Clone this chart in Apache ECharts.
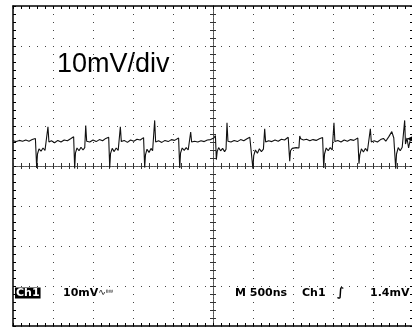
<!DOCTYPE html>
<html>
<head>
<meta charset="utf-8">
<script src="https://cdn.jsdelivr.net/npm/echarts@6/dist/echarts.min.js"></script>
<style>
html,body{margin:0;padding:0;background:#fff;}
#chart{width:412px;height:327px;}
</style>
</head>
<body>
<div id="chart"></div>
<script>
// Time relative to screen centre (ns), 500 ns / div
const timeNs = [
  -2500,-2460,-2420,-2380,-2340,-2300,-2260,-2220,
  -2204,-2194,-2175,-2150,-2125,-2100,-2075,-2063,-2051,-2020,-1980,-1940,-1900,-1860,-1820,-1780,-1742,
  -1729,-1719,-1700,-1675,-1650,-1625,-1603,-1591,-1579,-1540,-1500,-1460,-1420,-1380,-1340,-1304,
  -1291,-1281,-1260,-1235,-1210,-1185,-1170,-1158,-1146,-1110,-1070,-1030,-990,-950,-910,-868,
  -854,-844,-825,-800,-775,-755,-740,-729,-717,-680,-640,-600,-560,-520,-480,-430,
  -416,-406,-385,-360,-335,-310,-290,-279,-267,-230,-190,-150,-110,-70,-30,10,30,
  42,52,70,95,120,145,163,175,187,225,265,305,345,385,425,460,485,
  499,509,530,555,580,605,630,646,658,695,735,775,815,855,895,940,
  959,969,990,1015,1040,1065,1074,1084,1096,1130,1170,1210,1250,1290,1330,1370,
  1384,1394,1415,1440,1465,1490,1502,1512,1524,1560,1600,1640,1680,1720,1760,1810,
  1825,1835,1855,1880,1905,1930,1955,1967,1979,2015,2055,2095,2130,2160,2200,2235,2260,
  2284,2294,2315,2340,2365,2385,2396,2406,2425,2445,2465,2500
];
// Channel 1 voltage (mV), 10 mV / div
const traceMv = [
  6.3,6.1,6.4,6.2,6.5,6.2,6.6,6.9,
  -0.5,3.0,4.3,3.7,4.5,3.9,4.4,9.8,6.0,6.3,5.8,6.4,6.0,6.5,6.3,6.8,7.3,
  -0.6,3.3,4.5,3.8,4.7,4.0,4.6,10.1,6.2,6.0,6.5,6.1,6.6,6.3,6.9,7.2,
  -0.4,3.1,4.4,3.6,4.5,3.9,4.3,9.8,6.1,6.4,5.9,6.5,6.2,6.7,6.5,7.1,
  -0.4,2.8,4.2,3.4,4.4,3.8,4.3,11.4,6.0,6.3,5.9,6.4,6.1,6.6,6.4,7.0,
  -0.5,3.2,4.5,3.9,4.6,4.0,4.4,8.5,6.0,6.2,6.0,6.3,6.1,6.5,6.6,7.0,7.6,
  1.6,3.6,4.6,3.8,4.4,3.6,4.2,10.8,6.2,6.0,6.4,6.1,6.6,6.3,6.8,7.2,7.5,
  -0.7,2.6,4.0,3.2,4.3,3.6,4.2,9.3,6.0,6.3,6.1,6.5,6.2,6.7,6.5,7.2,
  1.2,3.8,4.4,4.0,4.6,4.2,4.5,7.5,6.8,6.5,6.7,6.3,6.6,6.4,6.8,7.1,
  -0.5,3.0,4.5,3.8,4.6,4.0,4.4,10.8,6.1,6.4,6.0,6.5,6.2,6.6,6.4,7.0,
  0.6,2.8,4.3,3.5,4.4,3.7,4.2,9.3,6.0,6.3,6.0,6.6,6.9,6.2,7.4,8.6,7.0,
  -0.7,3.0,4.6,3.8,4.7,4.2,11.4,5.5,7.0,4.5,6.5,6.2
];
const timePerDivNs = 500;
const voltsPerDivMv = 10;
const timeRangeNs = [-2500, 2500];
const voltRangeMv = [-40, 40];
const triggerMarker = [2465, 6.8];

const labelScale = '10mV/div';
const chLabel = 'Ch1';
const chScale = '10mV';
const timebase = 'M 500ns';
const trigSource = 'Ch1';
const trigLevel = '1.4mV';

const pts = timeNs.map((t, i) => [t, traceMv[i]]);

const borderCommon = {
  type: 'value', axisLabel: {show: false},
  axisTick: {show: true, inside: true, length: 3, lineStyle: {color: '#000', width: 1}},
  minorTick: {show: true, splitNumber: 5, length: 3, lineStyle: {color: '#000', width: 1}},
  minorSplitLine: {show: false}
};
const dotted = {show: true, lineStyle: {color: '#444', width: 1, type: [1, 7]}};

function xAx(extra) {
  return Object.assign({}, borderCommon, {min: timeRangeNs[0], max: timeRangeNs[1], interval: timePerDivNs}, extra);
}
function yAx(extra) {
  return Object.assign({}, borderCommon, {min: voltRangeMv[0], max: voltRangeMv[1], interval: voltsPerDivMv}, extra);
}
const centerLine = {color: '#555', width: 1, type: [2, 1]};
const cTick = {color: '#333', width: 1};

const option = {
  animation: false,
  grid: {left: 13, top: 6, width: 400, height: 320, containLabel: false, outerBoundsMode: 'none'},
  xAxis: [
    xAx({position: 'bottom', axisLine: {onZero: false, lineStyle: {color: '#000', width: 1.5}}, splitLine: dotted}),
    xAx({position: 'top', axisLine: {onZero: false, lineStyle: {color: '#000', width: 1.5}}, splitLine: {show: false}}),
    xAx({position: 'bottom', axisLine: {onZero: true, onZeroAxisIndex: 0, lineStyle: centerLine}, splitLine: {show: false},
         axisTick: {show: true, inside: true, length: 3, lineStyle: cTick}, minorTick: {show: true, splitNumber: 5, length: 3, lineStyle: cTick}}),
    xAx({position: 'bottom', axisLine: {onZero: true, onZeroAxisIndex: 0, lineStyle: centerLine}, splitLine: {show: false},
         axisTick: {show: true, inside: false, length: 3, lineStyle: cTick}, minorTick: {show: true, splitNumber: 5, length: 3, lineStyle: cTick}})
  ],
  yAxis: [
    yAx({position: 'left', axisLine: {onZero: false, lineStyle: {color: '#000', width: 1.5}}, splitLine: dotted}),
    yAx({position: 'right', axisLine: {onZero: false, lineStyle: {color: '#000', width: 1.5}}, splitLine: {show: false}}),
    yAx({position: 'left', axisLine: {onZero: true, onZeroAxisIndex: 0, lineStyle: centerLine}, splitLine: {show: false},
         axisTick: {show: true, inside: true, length: 3, lineStyle: cTick}, minorTick: {show: true, splitNumber: 5, length: 3, lineStyle: cTick}}),
    yAx({position: 'left', axisLine: {onZero: true, onZeroAxisIndex: 0, lineStyle: centerLine}, splitLine: {show: false},
         axisTick: {show: true, inside: false, length: 3, lineStyle: cTick}, minorTick: {show: true, splitNumber: 5, length: 3, lineStyle: cTick}})
  ],
  series: [{
    type: 'line', xAxisIndex: 0, yAxisIndex: 0, data: pts, showSymbol: false, symbol: 'none',
    lineStyle: {color: '#111', width: 1.1}, z: 5, clip: true,
    markPoint: {
      symbol: 'triangle', symbolRotate: 90, symbolSize: [6, 7], silent: true,
      itemStyle: {color: '#000'}, label: {show: false},
      data: [{coord: triggerMarker}]
    }
  }],
  graphic: [
    {type: 'text', left: 57, top: 51, style: {text: labelScale, font: '27px "Liberation Sans", Arial, sans-serif', fill: '#000'}},
    {type: 'text', x: 15, y: 293, style: {text: chLabel, font: 'bold 11px "DejaVu Sans", sans-serif', fill: '#fff', backgroundColor: '#000', padding: [1, 1, 0, 1], lineHeight: 10, verticalAlign: 'middle'}},
    {type: 'text', x: 63, y: 293, style: {
      text: '{a|' + chScale + '}{s|∿}{b|ᴮᵂ}',
      rich: {a: {font: 'bold 11px "DejaVu Sans", sans-serif', fill: '#000'},
             s: {font: '9px "DejaVu Sans", sans-serif', fill: '#000'},
             b: {font: '7px "DejaVu Sans", sans-serif', fill: '#000'}},
      verticalAlign: 'middle'}},
    {type: 'text', x: 235, y: 293, style: {text: timebase, font: 'bold 11px "DejaVu Sans", sans-serif', fill: '#000', verticalAlign: 'middle'}},
    {type: 'text', x: 302, y: 293, style: {text: trigSource, font: 'bold 11px "DejaVu Sans", sans-serif', fill: '#000', verticalAlign: 'middle'}},
    {type: 'text', x: 337, y: 293, style: {text: '∫', font: 'bold 12px "DejaVu Sans", sans-serif', fill: '#000', verticalAlign: 'middle'}},
    {type: 'text', x: 370, y: 293, style: {text: trigLevel, font: 'bold 11px "DejaVu Sans", sans-serif', fill: '#000', verticalAlign: 'middle'}}
  ]
};
const chart = echarts.init(document.getElementById('chart'), null, {renderer: 'canvas'});
chart.setOption(option);
</script>
</body>
</html>
